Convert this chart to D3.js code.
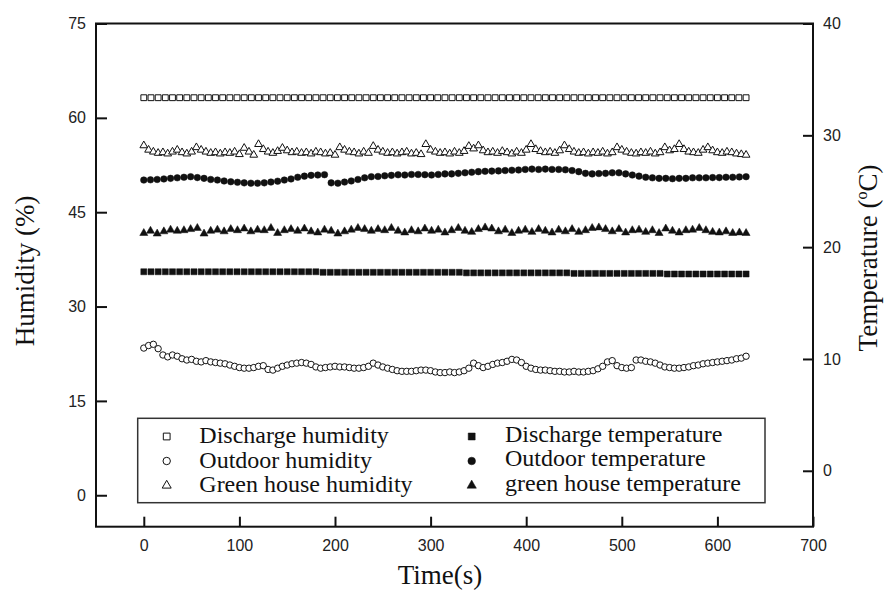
<!DOCTYPE html>
<html>
<head>
<meta charset="utf-8">
<script type="text/javascript" src="https://cdn.jsdelivr.net/npm/d3@7"></script>
<title>Humidity and temperature</title>
<style>
  body { margin:0; background:#fff; }
  .tick text { font-family:"Liberation Sans", Arial, sans-serif; font-size:16px; fill:#222; }
  .tick line { stroke:#111; stroke-width:2; }
  .domain { display:none; }
</style>
</head>
<body>
<div id="chart"></div>
<script type="text/javascript">

// sampling times (s)
var timeOpen = [0,5,10,15,20,25,30,35,40,45,50,55,60,65,70,75,80,85,90,95,
  100,105,110,115,120,125,130,135,140,145,150,155,160,165,170,175,180,185,190,195,
  200,205,210,215,220,225,230,235,240,245,250,255,260,265,270,275,280,285,290,295,
  300,305,310,315,320,325,330,335,340,345,350,355,360,365,370,375,380,385,390,395,
  400,405,410,415,420,425,430,435,440,445,450,455,460,465,470,475,480,485,490,495,
  500,505,510,515,520,525,530,535,540,545,550,555,560,565,570,575,580,585,590,595,
  600,605,610,615,620,625,630];

var timeFilled = [0,7,14,21,28,35,42,49,56,63,70,77,84,91,98,105,112,119,126,133,
  140,147,154,161,168,175,182,189,196,203,210,217,224,231,238,245,252,259,266,273,
  280,287,294,301,308,315,322,329,336,343,350,357,364,371,378,385,392,399,406,413,
  420,427,434,441,448,455,462,469,476,483,490,497,504,511,518,525,532,539,546,553,
  560,567,574,581,588,595,602,609,616,623,630];

var timeSquare = [0,7.5,15,22.5,30,37.5,45,52.5,60,67.5,75,82.5,90,97.5,105,112.5,120,127.5,135,142.5,
  150,157.5,165,172.5,180,187.5,195,202.5,210,217.5,225,232.5,240,247.5,255,262.5,270,277.5,285,292.5,
  300,307.5,315,322.5,330,337.5,345,352.5,360,367.5,375,382.5,390,397.5,405,412.5,420,427.5,435,442.5,
  450,457.5,465,472.5,480,487.5,495,502.5,510,517.5,525,532.5,540,547.5,555,562.5,570,577.5,585,592.5,
  600,607.5,615,622.5,630];

// humidity (%)
var dischargeHumidity = [63.2,63.2,63.2,63.2,63.2,63.2,63.2,63.2,63.2,63.2,63.2,63.2,63.2,63.2,63.2,63.2,63.2,63.2,63.2,63.2,
  63.2,63.2,63.2,63.2,63.2,63.2,63.2,63.2,63.2,63.2,63.2,63.2,63.2,63.2,63.2,63.2,63.2,63.2,63.2,63.2,
  63.2,63.2,63.2,63.2,63.2,63.2,63.2,63.2,63.2,63.2,63.2,63.2,63.2,63.2,63.2,63.2,63.2,63.2,63.2,63.2,
  63.2,63.2,63.2,63.2,63.2,63.2,63.2,63.2,63.2,63.2,63.2,63.2,63.2,63.2,63.2,63.2,63.2,63.2,63.2,63.2,
  63.2,63.2,63.2,63.2,63.2];

var outdoorHumidity = [23.4,23.8,24.0,23.3,22.3,22.0,22.3,22.1,21.7,21.5,
  21.6,21.3,21.2,21.4,21.2,21.1,21.0,20.9,20.7,20.5,
  20.3,20.2,20.2,20.3,20.5,20.6,20.0,19.9,20.2,20.5,
  20.7,20.9,21.0,21.1,21.0,20.8,20.4,20.2,20.3,20.4,
  20.5,20.4,20.4,20.3,20.2,20.2,20.3,20.5,21.0,20.7,
  20.4,20.2,20.0,19.8,19.7,19.7,19.7,19.8,19.9,19.9,
  19.8,19.6,19.5,19.5,19.6,19.5,19.6,19.8,20.2,21.0,
  20.6,20.3,20.5,20.8,21.0,21.1,21.3,21.6,21.5,21.1,
  20.5,20.2,20.0,19.9,19.9,19.8,19.7,19.7,19.6,19.6,
  19.7,19.6,19.6,19.7,19.8,20.1,20.5,21.2,21.4,20.6,
  20.3,20.2,20.3,21.5,21.5,21.3,21.2,21.0,20.7,20.4,
  20.3,20.2,20.2,20.3,20.4,20.6,20.7,20.9,21.0,21.1,
  21.2,21.3,21.4,21.5,21.7,21.8,22.1];

var greenhouseHumidity = [55.6,54.9,54.6,54.4,54.5,54.3,54.6,54.9,54.5,54.3,
  54.6,55.3,54.9,54.6,54.4,54.5,54.3,54.5,54.4,54.6,
  54.2,55.2,54.6,54.1,55.8,55.0,54.6,54.4,54.7,55.2,
  54.8,54.5,54.6,54.4,54.5,54.3,54.6,54.5,54.3,54.4,
  54.1,55.3,54.9,54.6,54.5,54.3,54.6,54.4,55.5,54.9,
  54.6,54.4,54.5,54.3,54.5,54.6,54.3,54.4,54.2,55.8,
  54.9,54.6,54.4,54.5,54.3,54.6,54.4,54.7,55.5,55.1,
  55.6,54.8,54.5,54.6,54.4,54.7,54.5,54.3,54.6,54.4,
  54.9,55.8,55.0,54.7,54.5,54.6,54.4,54.8,55.6,55.0,
  54.6,54.4,54.5,54.3,54.5,54.4,54.6,54.3,54.5,55.3,
  54.9,54.6,54.4,54.3,54.5,54.4,54.6,54.3,54.5,55.3,
  54.8,55.0,55.8,55.0,54.6,54.5,54.4,54.9,55.3,54.8,
  54.5,54.4,54.6,54.5,54.3,54.2,54.1];

// temperature (degC)
var dischargeTemp = [17.8,17.8,17.8,17.8,17.8,17.8,17.8,17.8,17.8,17.8,17.8,17.8,17.8,17.8,17.8,17.8,17.8,17.8,17.8,17.8,
  17.8,17.8,17.8,17.8,17.8,17.75,17.75,17.75,17.75,17.75,17.75,17.75,17.75,17.75,17.75,17.75,17.75,17.75,17.75,17.75,
  17.75,17.75,17.75,17.75,17.75,17.7,17.7,17.7,17.7,17.7,17.7,17.7,17.7,17.7,17.7,17.7,17.7,17.7,17.7,17.7,
  17.65,17.65,17.65,17.65,17.65,17.65,17.65,17.65,17.65,17.65,17.65,17.65,17.65,17.6,17.6,17.6,17.6,17.6,17.6,17.6,
  17.6,17.6,17.6,17.6,17.6];

var outdoorTemp = [26.0,26.02,26.05,26.1,26.15,26.2,26.25,26.3,26.22,26.15,
  26.05,26.0,25.92,25.85,25.8,25.75,25.72,25.72,25.75,25.82,
  25.9,26.0,26.1,26.25,26.35,26.42,26.45,26.48,25.75,25.72,
  25.82,25.92,26.05,26.2,26.3,26.32,26.38,26.42,26.47,26.45,
  26.5,26.5,26.48,26.45,26.5,26.55,26.55,26.6,26.65,26.7,
  26.75,26.78,26.8,26.82,26.85,26.88,26.9,26.95,26.98,26.95,
  26.98,26.95,26.95,26.92,26.85,26.75,26.6,26.55,26.58,26.6,
  26.65,26.65,26.55,26.45,26.35,26.25,26.2,26.15,26.15,26.12,
  26.15,26.15,26.2,26.2,26.2,26.22,26.22,26.25,26.25,26.28,26.3];

var greenhouseTemp = [21.25,21.45,21.2,21.4,21.55,21.45,21.5,21.6,21.7,21.2,
  21.45,21.55,21.4,21.6,21.5,21.65,21.4,21.55,21.5,21.7,
  21.25,21.5,21.6,21.45,21.65,21.4,21.3,21.55,21.45,21.2,
  21.4,21.55,21.7,21.6,21.45,21.6,21.5,21.7,21.45,21.3,
  21.5,21.4,21.65,21.45,21.55,21.3,21.5,21.7,21.45,21.35,
  21.6,21.75,21.65,21.4,21.55,21.25,21.45,21.55,21.35,21.6,
  21.45,21.3,21.55,21.4,21.6,21.35,21.5,21.7,21.75,21.6,
  21.4,21.6,21.3,21.5,21.55,21.35,21.5,21.25,21.65,21.45,
  21.3,21.5,21.55,21.7,21.5,21.35,21.3,21.4,21.25,21.3,21.25];

var xTicks = [0,100,200,300,400,500,600,700];
var humidityTicks = [0,15,30,45,60,75];
var tempTicks = [0,10,20,30,40];

(function(){

  var width = 889, height = 594;
  var left = 96, top = 23.5, right = 813, bottom = 526.7;
  var ink = "#111";

  var svg = d3.select("#chart").append("svg")
      .attr("width", width).attr("height", height);

  var x = d3.scaleLinear().domain([-50, 700]).range([left, right]);
  var yH = d3.scaleLinear().domain([-5, 75]).range([bottom, top]);
  var yT = d3.scaleLinear().domain([-5, 40]).range([bottom, top]);

  // axes with ticks pointing inside the frame
  svg.append("g").attr("transform", "translate(0," + bottom + ")")
     .call(d3.axisBottom(x).tickValues(xTicks).tickSize(-10).tickSizeOuter(0).tickPadding(13));
  svg.append("g").attr("transform", "translate(" + left + ",0)")
     .call(d3.axisLeft(yH).tickValues(humidityTicks).tickSize(-11).tickSizeOuter(0).tickPadding(10));
  svg.append("g").attr("transform", "translate(" + right + ",0)")
     .call(d3.axisRight(yT).tickValues(tempTicks).tickSize(-10).tickSizeOuter(0).tickPadding(10));

  svg.append("rect")
     .attr("x", left).attr("y", top)
     .attr("width", right - left).attr("height", bottom - top)
     .attr("fill", "none").attr("stroke", ink).attr("stroke-width", 2);

  var series = [
    {name:"Discharge humidity", t:timeSquare, v:dischargeHumidity, y:yH, shape:d3.symbolSquare, size:34, open:true},
    {name:"Outdoor humidity", t:timeOpen, v:outdoorHumidity, y:yH, shape:d3.symbolCircle, size:32, open:true},
    {name:"Green house humidity", t:timeOpen, v:greenhouseHumidity, y:yH, shape:d3.symbolTriangle, size:26, open:true},
    {name:"Discharge temperature", t:timeSquare, v:dischargeTemp, y:yT, shape:d3.symbolSquare, size:36, open:false},
    {name:"Outdoor temperature", t:timeFilled, v:outdoorTemp, y:yT, shape:d3.symbolCircle, size:34, open:false},
    {name:"green house temperature", t:timeFilled, v:greenhouseTemp, y:yT, shape:d3.symbolTriangle, size:28, open:false}
  ];

  series.forEach(function(s) {
    var pts = s.t.map(function(t, i) { return [t, s.v[i]]; });
    svg.append("g").selectAll("path")
       .data(pts)
       .enter().append("path")
         .attr("transform", function(d) { return "translate(" + x(d[0]) + "," + s.y(d[1]) + ")"; })
         .attr("d", d3.symbol().type(s.shape).size(s.size))
         .attr("fill", s.open ? "#fff" : ink)
         .attr("stroke", ink)
         .attr("stroke-width", s.open ? 1 : 0.5);
  });

  // legend
  var lg = svg.append("g");
  lg.append("rect")
    .attr("x", 137.7).attr("y", 418.3).attr("width", 627.3).attr("height", 84.4)
    .attr("fill", "#fff").attr("stroke", "#333").attr("stroke-width", 1.5);

  var rowY = [443, 467.5, 492];
  series.forEach(function(s, i) {
    var col = i < 3 ? 0 : 1, row = i % 3;
    var mx = col ? 471.7 : 166.7, tx = col ? 505 : 199.3;
    lg.append("path")
      .attr("transform", "translate(" + mx + "," + (rowY[row] - 6.5) + ")")
      .attr("d", d3.symbol().type(s.shape).size(s.size * 1.35))
      .attr("fill", s.open ? "#fff" : ink)
      .attr("stroke", ink).attr("stroke-width", s.open ? 1 : 0.5);
    lg.append("text")
      .attr("x", tx).attr("y", rowY[row] - (col ? 1.5 : 0))
      .style("font-family", "'Liberation Serif', 'Times New Roman', serif")
      .style("font-size", "24px").attr("fill", ink)
      .text(s.name);
  });

  // axis titles
  var serif = "'Liberation Serif', 'Times New Roman', serif";
  svg.append("text")
     .attr("x", 440).attr("y", 584).attr("text-anchor", "middle")
     .style("font-family", serif).style("font-size", "27px").attr("fill", ink)
     .text("Time(s)");

  svg.append("text")
     .attr("transform", "translate(34,271) rotate(-90)").attr("text-anchor", "middle")
     .style("font-family", serif).style("font-size", "27px").attr("fill", ink)
     .text("Humidity (%)");

  var tt = svg.append("text")
     .attr("transform", "translate(877,258) rotate(-90)").attr("text-anchor", "middle")
     .style("font-family", serif).style("font-size", "27px").attr("fill", ink);
  tt.append("tspan").text("Temperature (");
  tt.append("tspan").attr("dy", -10).style("font-size", "16px").text("o");
  tt.append("tspan").attr("dy", 10).text("C)");

})();
</script>
</body>
</html>
